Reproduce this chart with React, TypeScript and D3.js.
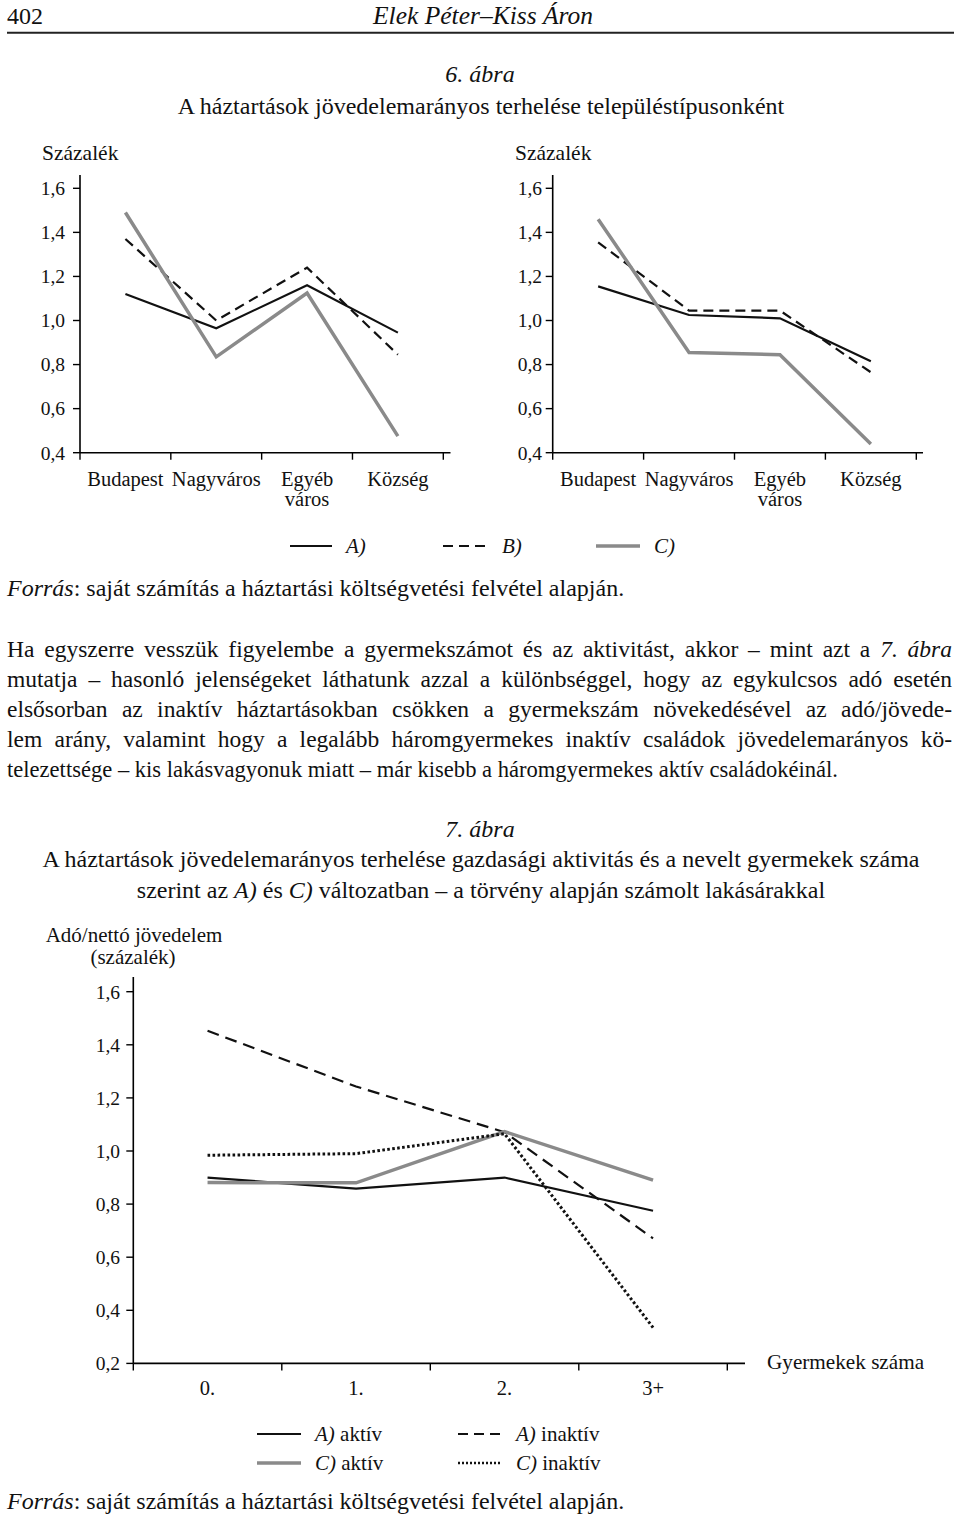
import React from "react";
import * as d3 from "d3";

const FONT = "'Liberation Serif', 'Times New Roman', Times, serif";
const GRAY = "#8a8a8a";

// ---------- Figure 6 data ----------
const fig6Categories: string[][] = [["Budapest"], ["Nagyváros"], ["Egyéb", "város"], ["Község"]];
const fig6YTicks = [0.4, 0.6, 0.8, 1.0, 1.2, 1.4, 1.6];
const fig6LeftA = [1.12, 0.965, 1.16, 0.945];
const fig6LeftB = [1.37, 1.0, 1.24, 0.845];
const fig6LeftC = [1.49, 0.835, 1.125, 0.475];
const fig6RightA = [1.155, 1.025, 1.01, 0.815];
const fig6RightB = [1.355, 1.045, 1.045, 0.765];
const fig6RightC = [1.46, 0.855, 0.845, 0.44];
const fig6Legend = ["A)", "B)", "C)"];

// ---------- Figure 7 data ----------
const fig7Categories: string[][] = [["0."], ["1."], ["2."], ["3+"]];
const fig7YTicks = [0.2, 0.4, 0.6, 0.8, 1.0, 1.2, 1.4, 1.6];
const fig7AActive = [0.9, 0.858, 0.9, 0.775];
const fig7AInactive = [1.453, 1.243, 1.071, 0.671];
const fig7CActive = [0.881, 0.88, 1.073, 0.89];
const fig7CInactive = [0.984, 0.99, 1.065, 0.335];

type Seg = { t: string; i?: boolean };

const bodyLines: Seg[][] = [
  [{ t: "Ha egyszerre vesszük figyelembe a gyermekszámot és az aktivitást, akkor – mint azt a " }, { t: "7. ábra", i: true }],
  [{ t: "mutatja – hasonló jelenségeket láthatunk azzal a különbséggel, hogy az egykulcsos adó esetén" }],
  [{ t: "elsősorban az inaktív háztartásokban csökken a gyermekszám növekedésével az adó/jövede-" }],
  [{ t: "lem arány, valamint hogy a legalább háromgyermekes inaktív családok jövedelemarányos kö-" }],
  [{ t: "telezettsége – kis lakásvagyonuk miatt – már kisebb a háromgyermekes aktív családokéinál." }],
];

let canvasCtx: CanvasRenderingContext2D | null = null;
function measure(text: string, size: number, italic: boolean): number {
  if (!canvasCtx) {
    const c = document.createElement("canvas");
    canvasCtx = c.getContext("2d");
  }
  if (!canvasCtx) return text.length * size * 0.45;
  canvasCtx.font = `${italic ? "italic " : ""}${size}px 'Liberation Serif'`;
  return canvasCtx.measureText(text).width;
}

function Justified({ segs, x, y, width, size }: { segs: Seg[]; x: number; y: number; width: number; size: number }) {
  const natural = segs.reduce((s, g) => s + measure(g.t, size, !!g.i), 0);
  const spaces = segs.reduce((s, g) => s + (g.t.match(/ /g) || []).length, 0);
  if (natural > width) {
    // slightly condense to fit
    return (
      <text x={x} y={y} fontSize={size} textLength={width} lengthAdjust="spacingAndGlyphs">
        {segs.map((g) => g.t).join("")}
      </text>
    );
  }
  const ws = spaces > 0 ? (width - natural) / spaces : 0;
  return (
    <text x={x} y={y} fontSize={size} style={{ wordSpacing: `${ws}px` }}>
      {segs.map((g, k) => (
        <tspan key={k} fontStyle={g.i ? "italic" : "normal"}>{g.t}</tspan>
      ))}
    </text>
  );
}

const fmt = (v: number) => v.toFixed(1).replace(".", ",");

type Series = { values: number[]; stroke: string; width: number; dash?: string };

function LineChart(props: {
  xRange: [number, number];
  axisEnd: number;
  yDomain: [number, number];
  yRange: [number, number];
  axisTop: number;
  ticks: number[];
  labelRight: number;
  cats: string[][];
  catY: number;
  catLine: number;
  catSize: number;
  tickSize: number;
  series: Series[];
}) {
  const { xRange, axisEnd, yDomain, yRange, axisTop, ticks, labelRight, cats, catY, catLine, catSize, tickSize, series } = props;
  const x = d3.scaleBand<string>().domain(cats.map((_, i) => String(i))).range(xRange).paddingInner(0).paddingOuter(0);
  const y = d3.scaleLinear().domain(yDomain).range(yRange);
  const cx = (i: number) => (x(String(i)) as number) + x.bandwidth() / 2;
  const line = d3.line<number>().x((_, i) => cx(i)).y((d) => y(d));
  const ax = xRange[0];
  const ay = yRange[0];
  const bounds = d3.range(cats.length + 1).map((i) => xRange[0] + i * x.step());
  return (
    <g>
      {series.map((s, k) => (
        <path key={k} d={line(s.values) || ""} fill="none" stroke={s.stroke} strokeWidth={s.width} strokeDasharray={s.dash} strokeLinejoin="miter" />
      ))}
      <line x1={ax} x2={ax} y1={axisTop} y2={ay} stroke="#000" strokeWidth={1.6} />
      <line x1={ax} x2={axisEnd} y1={ay} y2={ay} stroke="#000" strokeWidth={1.6} />
      {ticks.map((t) => (
        <g key={t}>
          <line x1={ax - 7} x2={ax} y1={y(t)} y2={y(t)} stroke="#000" strokeWidth={1.4} />
          <text x={labelRight} y={y(t)} dy="0.35em" textAnchor="end" fontSize={tickSize}>{fmt(t)}</text>
        </g>
      ))}
      {bounds.map((b, i) => (
        <line key={i} x1={b} x2={b} y1={ay} y2={ay + 7} stroke="#000" strokeWidth={1.4} />
      ))}
      {cats.map((c, i) => (
        <text key={i} x={cx(i)} y={catY} textAnchor="middle" fontSize={catSize}>
          {c.map((l, j) => (
            <tspan key={j} x={cx(i)} dy={j === 0 ? 0 : catLine}>{l}</tspan>
          ))}
        </text>
      ))}
    </g>
  );
}

function LegendItem({ x, y, w, s, label }: { x: number; y: number; w: number; s: Series; label: Seg[] }) {
  return (
    <g>
      <line x1={x} x2={x + w} y1={y} y2={y} stroke={s.stroke} strokeWidth={s.width} strokeDasharray={s.dash} />
      <text x={x + w + 14} y={y + 6.5} fontSize={21}>
        {label.map((g, k) => (
          <tspan key={k} fontStyle={g.i ? "italic" : "normal"}>{g.t}</tspan>
        ))}
      </text>
    </g>
  );
}

export default function App() {
  const sA: Series = { values: [], stroke: "#111", width: 2.2 };
  const sB: Series = { values: [], stroke: "#111", width: 2.2, dash: "10,6" };
  const sC: Series = { values: [], stroke: GRAY, width: 3.5 };

  const f7A: Series = { values: fig7AActive, stroke: "#111", width: 2.2 };
  const f7AI: Series = { values: fig7AInactive, stroke: "#111", width: 2.2, dash: "12,7" };
  const f7C: Series = { values: fig7CActive, stroke: GRAY, width: 3.5 };
  const f7CI: Series = { values: fig7CInactive, stroke: "#111", width: 3, dash: "2.6,2.4" };

  const fig6Common = {
    yDomain: [0.4, 1.6] as [number, number],
    yRange: [452.7, 188.3] as [number, number],
    axisTop: 175,
    ticks: fig6YTicks,
    cats: fig6Categories,
    catY: 485.5,
    catLine: 20,
    catSize: 20.5,
    tickSize: 19.5,
  };

  return (
    <svg
      width={960}
      height={1522}
      viewBox="0 0 960 1522"
      style={{ position: "absolute", left: 0, top: 0, background: "#fff" }}
      fontFamily={FONT}
      fill="#111"
    >
      <rect x={0} y={0} width={960} height={1522} fill="#fff" />
      {/* Page header */}
      <text x={7} y={23.5} fontSize={24}>402</text>
      <text x={483} y={23.5} fontSize={25.5} fontStyle="italic" textAnchor="middle">Elek Péter–Kiss Áron</text>
      <line x1={7} x2={954} y1={32.7} y2={32.7} stroke="#222" strokeWidth={2} />

      {/* Figure 6 */}
      <text x={480} y={82} fontSize={24} fontStyle="italic" textAnchor="middle">6. ábra</text>
      <text x={481} y={114} fontSize={24} textAnchor="middle">A háztartások jövedelemarányos terhelése településtípusonként</text>

      <text x={42} y={160} fontSize={21.5}>Százalék</text>
      <text x={515} y={160} fontSize={21.5}>Százalék</text>

      <LineChart
        {...fig6Common}
        xRange={[80, 443.3]}
        axisEnd={450.5}
        labelRight={65}
        series={[
          { ...sA, values: fig6LeftA },
          { ...sB, values: fig6LeftB },
          { ...sC, values: fig6LeftC },
        ]}
      />
      <LineChart
        {...fig6Common}
        xRange={[552.7, 916.3]}
        axisEnd={923}
        labelRight={542}
        series={[
          { ...sA, values: fig6RightA },
          { ...sB, values: fig6RightB },
          { ...sC, values: fig6RightC },
        ]}
      />

      <LegendItem x={290} y={546} w={42} s={sA} label={[{ t: fig6Legend[0], i: true }]} />
      <LegendItem x={443} y={546} w={45} s={{ ...sB, dash: "10,6" }} label={[{ t: fig6Legend[1], i: true }]} />
      <LegendItem x={596} y={546} w={44} s={sC} label={[{ t: fig6Legend[2], i: true }]} />

      <text x={7} y={596} fontSize={24}>
        <tspan fontStyle="italic">Forrás</tspan>: saját számítás a háztartási költségvetési felvétel alapján.
      </text>

      {/* Body text */}
      {bodyLines.map((segs, i) =>
        i < bodyLines.length - 1 ? (
          <Justified key={i} segs={segs} x={7} y={657 + i * 30.1} width={945} size={23.5} />
        ) : (
          <Justified key={i} segs={segs} x={7} y={657 + i * 30.1} width={831} size={23.5} />
        )
      )}

      {/* Figure 7 */}
      <text x={480} y={837} fontSize={24} fontStyle="italic" textAnchor="middle">7. ábra</text>
      <text x={481} y={867} fontSize={24} textAnchor="middle">
        A háztartások jövedelemarányos terhelése gazdasági aktivitás és a nevelt gyermekek száma
      </text>
      <text x={481} y={898} fontSize={24} textAnchor="middle">
        szerint az <tspan fontStyle="italic">A)</tspan> és <tspan fontStyle="italic">C)</tspan> változatban – a törvény alapján számolt lakásárakkal
      </text>

      <text x={134} y={942} fontSize={21} textAnchor="middle">Adó/nettó jövedelem</text>
      <text x={133} y={964} fontSize={21} textAnchor="middle">(százalék)</text>

      <LineChart
        xRange={[133.3, 727.3]}
        axisEnd={745}
        yDomain={[0.2, 1.6]}
        yRange={[1363.4, 991.7]}
        axisTop={977}
        ticks={fig7YTicks}
        labelRight={120}
        cats={fig7Categories}
        catY={1394.5}
        catLine={20}
        catSize={20.5}
        tickSize={19.5}
        series={[f7A, f7AI, f7C, f7CI]}
      />
      <text x={767} y={1369} fontSize={21.2}>Gyermekek száma</text>

      <LegendItem x={257} y={1434} w={44} s={f7A} label={[{ t: "A)", i: true }, { t: " aktív" }]} />
      <LegendItem x={458} y={1434} w={44} s={{ ...f7AI, dash: "10,6" }} label={[{ t: "A)", i: true }, { t: " inaktív" }]} />
      <LegendItem x={257} y={1463} w={44} s={f7C} label={[{ t: "C)", i: true }, { t: " aktív" }]} />
      <LegendItem x={458} y={1463} w={44} s={{ ...f7CI, width: 2.4, dash: "2,2" }} label={[{ t: "C)", i: true }, { t: " inaktív" }]} />

      <text x={7} y={1509} fontSize={24}>
        <tspan fontStyle="italic">Forrás</tspan>: saját számítás a háztartási költségvetési felvétel alapján.
      </text>
    </svg>
  );
}
